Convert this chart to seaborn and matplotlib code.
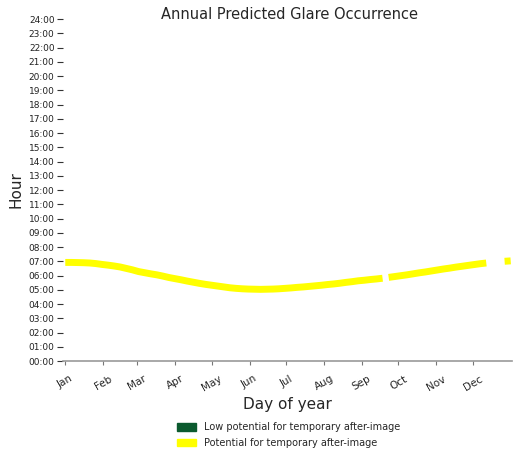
import pandas as pd
import numpy as np
import matplotlib.pyplot as plt
import seaborn as sns
from matplotlib.patches import Patch

# glare start hour, every 5 days (gaps where no glare shows)
day_of_year = [1, 6, 11, 16, 21, 26, 31, 36, 41, 46, 51, 56, 61, 66, 71, 76, 81, 86,
               91, 96, 101, 106, 111, 116, 121, 126, 131, 136, 141, 146, 151, 156,
               161, 166, 171, 176, 181, 186, 191, 196, 201, 206, 211, 216, 221, 226,
               231, 236, 241, 246, 251, 256, 261, 266, 271, 276, 281, 286, 291, 296, 301,
               306, 311, 316, 321, 326, 331, 336, 341, 346, 361, 366]
glare_hour = [6.92, 6.92, 6.91, 6.90, 6.88, 6.84, 6.78, 6.73, 6.67, 6.60, 6.50, 6.40,
              6.28, 6.20, 6.12, 6.05, 5.96, 5.86, 5.78, 5.70, 5.61, 5.53, 5.45, 5.38,
              5.32, 5.26, 5.20, 5.14, 5.10, 5.07, 5.05, 5.04, 5.03, 5.04, 5.05, 5.07,
              5.10, 5.13, 5.17, 5.20, 5.24, 5.28, 5.32, 5.37, 5.41, 5.46, 5.52, 5.57,
              5.63, 5.67, 5.72, 5.76, 5.81, 5.87, 5.93, 5.99, 6.05, 6.12, 6.19, 6.25, 6.32,
              6.39, 6.46, 6.52, 6.59, 6.65, 6.71, 6.77, 6.83, 6.88, 7.00, 7.03]
# runs of consecutive glare days (breaks near late Sep and mid Dec)
segment = [1] * 53 + [2] * 17 + [3] * 2

month_days = [1, 32, 60, 91, 121, 152, 182, 213, 244, 274, 305, 335]
month_names = ["Jan", "Feb", "Mar", "Apr", "May", "Jun", "Jul", "Aug", "Sep", "Oct", "Nov", "Dec"]
hour_labels = ["%02d:00" % h for h in range(25)]

df = pd.DataFrame({"day": day_of_year, "hour": glare_hour, "segment": segment})

sns.set_style("white")
plt.rcParams['font.family'] = ['DejaVu Sans']

fig = plt.figure(figsize=(5.15, 4.53), dpi=100)
ax = fig.add_axes([0.122, 0.203, 0.872, 0.755])

sns.lineplot(data=df, x="day", y="hour", units="segment", estimator=None,
             color="#ffff00", linewidth=5, solid_capstyle="butt", ax=ax)

ax.set_xlim(-1, 367)
ax.set_ylim(0, 24)
ax.set_xticks(month_days)
ax.set_xticklabels(month_names, rotation=30, ha="center", fontsize=7.5)
ax.set_yticks(range(25))
ax.set_yticklabels(hour_labels, fontsize=6.5, color="#222222")
ax.tick_params(left=True, bottom=True)
ax.tick_params(axis="y", length=4, width=0.8, color="#333333", pad=2)
ax.tick_params(axis="x", length=3, width=0.8, color="#777777", pad=6)

for side in ["top", "right", "left"]:
    ax.spines[side].set_visible(False)
ax.spines["bottom"].set_color("#999999")
ax.spines["bottom"].set_linewidth(1.2)

ax.set_xlabel("Day of year", fontsize=11, labelpad=3)
ax.set_ylabel("Hour", fontsize=11, labelpad=4)
fig.text(0.563, 0.967, "Annual Predicted Glare Occurrence", ha="center", va="center", fontsize=10.5)

handles = [Patch(color="#0b5a2e", label="Low potential for temporary after-image"),
           Patch(color="#ffff00", label="Potential for temporary after-image")]
fig.legend(handles=handles, loc="upper center", bbox_to_anchor=(0.56, 0.083),
           frameon=False, fontsize=7, handlelength=2.0, handleheight=0.8,
           labelspacing=0.6, borderpad=0.2)

plt.savefig("out.png", dpi=100)
